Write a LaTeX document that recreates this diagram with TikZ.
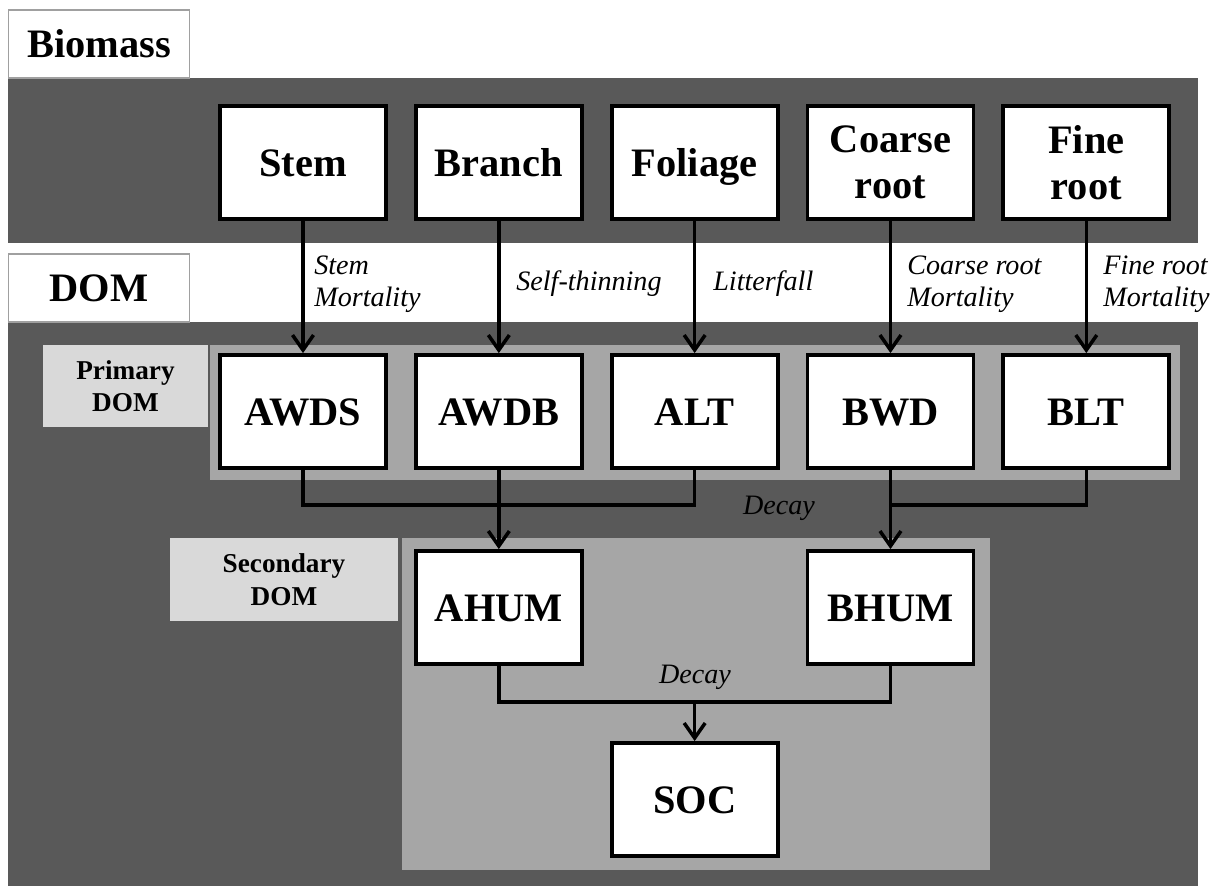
\documentclass[tikz,border=0pt]{standalone}
\usepackage{fontspec}
\setmainfont{Liberation Serif}
\usetikzlibrary{positioning, arrows.meta}
\definecolor{darkband}{HTML}{595959}
\definecolor{midband}{HTML}{A6A6A6}
\definecolor{tagfill}{HTML}{D9D9D9}
\definecolor{tagline}{HTML}{A0A0A0}

\begin{document}
\begin{tikzpicture}[x=0.02cm, y=-0.02cm,
    pool/.style={rectangle, draw, fill=white, line width=2.2pt,
      minimum width=3.32cm, minimum height=2.26cm, align=center,
      text height=15.5pt, text depth=0pt,
      font=\fontsize{23}{26}\selectfont\bfseries},
    twopool/.style={pool, text height=, text depth=},
    tag/.style={rectangle, draw=tagline, fill=white, line width=0.9pt,
      minimum width=3.62cm, minimum height=1.36cm,
      text height=15.5pt, text depth=0pt,
      font=\fontsize{23}{27}\selectfont\bfseries},
    subtag/.style={rectangle, fill=tagfill, align=center,
      font=\fontsize{15.5}{18.5}\selectfont\bfseries},
    flux/.style={inner sep=0pt, anchor=west, align=left,
      font=\fontsize{16}{18.5}\selectfont\itshape},
    link/.style={line width=2pt},
    arr/.style={-{Straight Barb[length=3mm, width=4.2mm]}, line width=2pt}]

  \useasboundingbox (0,0) rectangle (1218,886);

  % bands
  \fill[darkband] (8,78) rectangle (1198,243);
  \fill[darkband] (8,322) rectangle (1198,886);
  \fill[midband] (210,345) rectangle (1180,480);
  \fill[midband] (402,538) rectangle (990,870);

  % section tags
  \node[tag] (biomass) at (99,44) {Biomass};
  \node[tag] (dom) at (99,288) {DOM};
  \node[subtag, minimum width=3.3cm, minimum height=1.64cm] (primary)
    at (125.5,386) {Primary\\DOM};
  \node[subtag, minimum width=4.56cm, minimum height=1.66cm] (secondary)
    at (284,579.5) {Secondary\\DOM};

  % biomass pools
  \node[pool] (stem) at (303,162.5) {Stem};
  \node[pool, right=0.52cm of stem] (branch) {Branch};
  \node[pool, right=0.52cm of branch] (foliage) {Foliage};
  \node[twopool, right=0.52cm of foliage] (coarse) {Coarse\\root};
  \node[twopool, right=0.52cm of coarse] (fine) {Fine\\root};

  % primary DOM
  \node[pool] (awds) at (303,411.5) {AWDS};
  \node[pool, right=0.52cm of awds] (awdb) {AWDB};
  \node[pool, right=0.52cm of awdb] (alt) {ALT};
  \node[pool, right=0.52cm of alt] (bwd) {BWD};
  \node[pool, right=0.52cm of bwd] (blt) {BLT};

  % secondary DOM
  \node[pool] (ahum) at (awdb |- 0,607.5) {AHUM};
  \node[pool] (bhum) at (bwd |- 0,607.5) {BHUM};
  \node[pool] (soc) at (alt |- 0,799.5) {SOC};

  % transfers
  \draw[arr] (stem) -- (awds);
  \draw[arr] (branch) -- (awdb);
  \draw[arr] (foliage) -- (alt);
  \draw[arr] (coarse) -- (bwd);
  \draw[arr] (fine) -- (blt);

  \node[flux] (lstem) at (314,284) {Stem\\Mortality};
  \node[flux] (lthin) at (516,284) {Self-thinning};
  \node[flux] (llitter) at (713,284) {Litterfall};
  \node[flux] (lcoarse) at (907,284) {Coarse root\\Mortality};
  \node[flux] (lfine) at (1103,284) {Fine root\\Mortality};

  % decay
  \coordinate (ja) at (awdb.south |- 0,505);
  \coordinate (jb) at (bwd.south |- 0,505);
  \coordinate (jc) at (soc.north |- 0,702);
  \draw[link] (awds.south) |- (ja) -| (alt.south);
  \draw[arr] (awdb) -- (ahum);
  \draw[link] (blt.south) |- (jb);
  \draw[arr] (bwd) -- (bhum);
  \node[flux, anchor=center] (ldecaya) at (779,508) {Decay};

  \draw[link] (ahum.south) |- (jc) -| (bhum.south);
  \draw[arr] (jc) -- (soc);
  \node[flux, anchor=center] (ldecayb) at (695,677) {Decay};
\end{tikzpicture}
\end{document}
